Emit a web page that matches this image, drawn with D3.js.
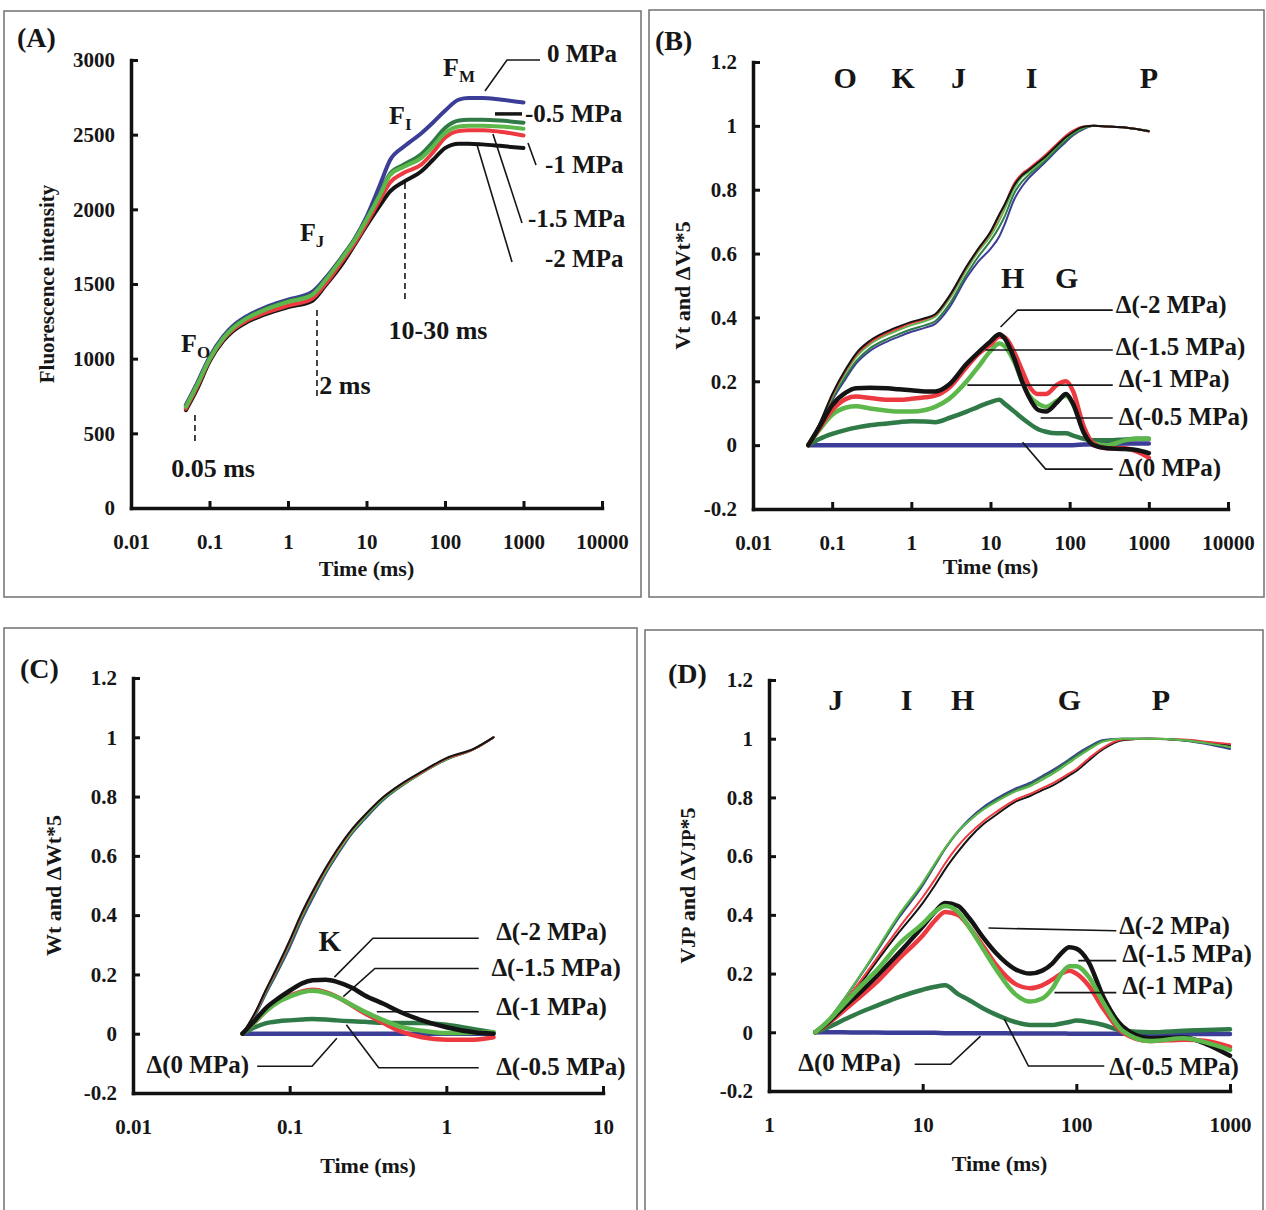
<!DOCTYPE html>
<html>
<head>
<meta charset="utf-8">
<script src="https://cdn.jsdelivr.net/npm/d3@7"></script>
<style>
  body { margin: 0; background: #fff; }
  text { font-family: "Liberation Serif", "Times New Roman", serif; font-weight: bold; fill: #161616; }
</style>
</head>
<body>
<svg id="fig" width="1266" height="1210"></svg>
<script>
/* ========================================================================
 * Chlorophyll fluorescence transients, four panels (A)-(D)
 * ======================================================================== */

// series: water potentials, order 0 / -0.5 / -1 / -1.5 / -2 MPa
var pressures = ['0 MPa', '-0.5 MPa', '-1 MPa', '-1.5 MPa', '-2 MPa'];
var deltaNames = ['Δ(0 MPa)', 'Δ(-0.5 MPa)', 'Δ(-1 MPa)', 'Δ(-1.5 MPa)', 'Δ(-2 MPa)'];
var colors = ['#3b3d96', '#2f7a47', '#5db84b', '#ec3a40', '#141414'];

// tick labels
var decadesAB = [0.01, 0.1, 1, 10, 100, 1000, 10000];
var decadesC = [0.01, 0.1, 1, 10];
var decadesD = [1, 10, 100, 1000];
var ticksFluo = [0, 500, 1000, 1500, 2000, 2500, 3000];
var ticksRel = [-0.2, 0, 0.2, 0.4, 0.6, 0.8, 1, 1.2];

// (A) raw OJIP transients
var timeA = [0.05, 0.07, 0.1, 0.15, 0.2, 0.3, 0.5, 1, 2, 3, 5, 7, 10, 15, 20, 30, 50, 70, 100, 150, 200, 300, 500, 1000];
var fluo0  = [690, 840, 1010, 1150, 1220, 1285, 1340, 1395, 1445, 1540, 1690, 1800, 1950, 2170, 2330, 2420, 2510, 2580, 2660, 2735, 2745, 2745, 2735, 2715];
var fluo05 = [680, 830, 1000, 1140, 1210, 1275, 1330, 1385, 1430, 1530, 1685, 1795, 1935, 2110, 2240, 2300, 2370, 2450, 2545, 2595, 2600, 2600, 2595, 2580];
var fluo1  = [678, 826, 996, 1136, 1205, 1270, 1325, 1380, 1425, 1525, 1680, 1790, 1930, 2100, 2230, 2285, 2345, 2420, 2510, 2555, 2560, 2560, 2555, 2540];
var fluo15 = [665, 815, 990, 1130, 1195, 1255, 1305, 1355, 1400, 1500, 1660, 1770, 1905, 2070, 2180, 2245, 2300, 2380, 2480, 2525, 2530, 2530, 2520, 2495];
var fluo2  = [655, 800, 980, 1120, 1185, 1245, 1295, 1345, 1385, 1490, 1640, 1760, 1890, 2030, 2120, 2185, 2255, 2330, 2410, 2440, 2440, 2435, 2425, 2410];

// (B) Vt and dVt*5
var timeB = [0.05, 0.07, 0.1, 0.15, 0.2, 0.3, 0.5, 0.7, 1, 1.5, 2, 3, 5, 7, 10, 13, 15, 20, 25, 30, 40, 50, 70, 90, 110, 150, 200, 300, 500, 700, 1000];
var vt0  = [0, 0.06, 0.14, 0.21, 0.255, 0.295, 0.325, 0.34, 0.355, 0.368, 0.38, 0.43, 0.525, 0.575, 0.615, 0.655, 0.69, 0.77, 0.81, 0.835, 0.865, 0.888, 0.925, 0.95, 0.97, 0.99, 1, 0.998, 0.995, 0.99, 0.983];
var vt05 = [0, 0.062, 0.145, 0.218, 0.262, 0.303, 0.333, 0.348, 0.363, 0.376, 0.388, 0.44, 0.535, 0.59, 0.64, 0.685, 0.715, 0.79, 0.825, 0.845, 0.872, 0.893, 0.93, 0.955, 0.973, 0.992, 1, 0.998, 0.995, 0.99, 0.984];
var vt1  = [0, 0.066, 0.152, 0.23, 0.276, 0.316, 0.346, 0.361, 0.376, 0.389, 0.402, 0.456, 0.55, 0.606, 0.655, 0.705, 0.738, 0.805, 0.84, 0.855, 0.878, 0.9, 0.937, 0.963, 0.978, 0.995, 1, 0.998, 0.995, 0.99, 0.984];
var vt15 = [0, 0.068, 0.156, 0.236, 0.282, 0.322, 0.352, 0.367, 0.382, 0.395, 0.408, 0.463, 0.558, 0.613, 0.665, 0.72, 0.752, 0.82, 0.85, 0.865, 0.89, 0.91, 0.945, 0.97, 0.985, 0.998, 1, 0.998, 0.995, 0.99, 0.982];
var vt2  = [0, 0.07, 0.16, 0.24, 0.287, 0.327, 0.357, 0.372, 0.386, 0.398, 0.41, 0.466, 0.56, 0.615, 0.668, 0.724, 0.752, 0.815, 0.845, 0.86, 0.885, 0.905, 0.94, 0.965, 0.98, 0.997, 1, 0.998, 0.995, 0.99, 0.983];
var dvt0  = [0, 0, 0, 0, 0, 0, 0, 0, 0, 0, 0, 0, 0, 0, 0, 0, 0, 0, 0, 0, 0, 0, 0, 0, 0, 0.002, 0.003, 0.004, 0.005, 0.005, 0.005];
var dvt05 = [0, 0.02, 0.035, 0.048, 0.055, 0.062, 0.068, 0.072, 0.075, 0.074, 0.072, 0.085, 0.105, 0.12, 0.135, 0.142, 0.13, 0.105, 0.085, 0.07, 0.05, 0.042, 0.037, 0.037, 0.03, 0.02, 0.015, 0.015, 0.018, 0.02, 0.02];
var dvt1  = [0, 0.05, 0.095, 0.118, 0.122, 0.115, 0.108, 0.105, 0.105, 0.11, 0.12, 0.145, 0.2, 0.245, 0.295, 0.318, 0.31, 0.26, 0.2, 0.16, 0.13, 0.12, 0.14, 0.155, 0.13, 0.05, 0.005, 0, 0.015, 0.02, 0.02];
var dvt15 = [0, 0.055, 0.11, 0.145, 0.152, 0.148, 0.142, 0.142, 0.145, 0.15, 0.155, 0.18, 0.245, 0.285, 0.315, 0.34, 0.338, 0.29, 0.235, 0.19, 0.16, 0.16, 0.19, 0.2, 0.17, 0.06, 0.005, -0.01, -0.01, -0.02, -0.04];
var dvt2  = [0, 0.06, 0.125, 0.165, 0.178, 0.18, 0.178, 0.175, 0.172, 0.168, 0.168, 0.19, 0.255, 0.29, 0.325, 0.347, 0.335, 0.27, 0.2, 0.155, 0.11, 0.105, 0.135, 0.16, 0.13, 0.04, 0, -0.01, -0.012, -0.015, -0.025];

// (C) Wt and dWt*5 (O-K)
var timeC = [0.05, 0.06, 0.07, 0.085, 0.1, 0.12, 0.14, 0.17, 0.2, 0.25, 0.3, 0.4, 0.5, 0.7, 1, 1.5, 2];
var wt0  = [0, 0.06, 0.13, 0.215, 0.29, 0.385, 0.455, 0.54, 0.6, 0.675, 0.722, 0.79, 0.83, 0.88, 0.925, 0.96, 1];
var wt05 = [0, 0.063, 0.134, 0.22, 0.298, 0.392, 0.462, 0.545, 0.605, 0.678, 0.726, 0.792, 0.83, 0.88, 0.925, 0.96, 1];
var wt1  = [0, 0.066, 0.14, 0.228, 0.307, 0.4, 0.47, 0.55, 0.61, 0.682, 0.73, 0.796, 0.833, 0.88, 0.926, 0.96, 1];
var wt15 = [0, 0.068, 0.142, 0.23, 0.31, 0.405, 0.475, 0.556, 0.616, 0.688, 0.735, 0.8, 0.836, 0.882, 0.928, 0.96, 1];
var wt2  = [0, 0.07, 0.145, 0.235, 0.315, 0.41, 0.48, 0.56, 0.62, 0.69, 0.736, 0.8, 0.838, 0.885, 0.93, 0.962, 1];
var dwt0  = [0, 0, 0, 0, 0, 0, 0, 0, 0, 0, 0, 0, 0, 0, 0, 0, 0];
var dwt05 = [0, 0.022, 0.035, 0.042, 0.045, 0.048, 0.05, 0.048, 0.045, 0.042, 0.04, 0.037, 0.036, 0.036, 0.03, 0.015, 0.005];
var dwt1  = [0, 0.04, 0.075, 0.108, 0.125, 0.14, 0.145, 0.138, 0.124, 0.097, 0.075, 0.045, 0.025, 0.01, 0.002, 0.003, 0.005];
var dwt15 = [0, 0.04, 0.075, 0.11, 0.128, 0.143, 0.148, 0.14, 0.125, 0.095, 0.07, 0.035, 0.01, -0.012, -0.02, -0.02, -0.012];
var dwt2  = [0, 0.045, 0.085, 0.12, 0.145, 0.17, 0.18, 0.182, 0.175, 0.155, 0.13, 0.1, 0.075, 0.045, 0.022, 0.005, 0];

// (D) VJP and dVJP*5 (J-P)
var timeD = [2, 2.5, 3, 4, 5, 7, 10, 12, 14, 17, 20, 25, 30, 40, 50, 60, 70, 80, 90, 100, 120, 150, 200, 300, 500, 700, 1000];
var vjp0  = [0, 0.05, 0.103, 0.198, 0.273, 0.39, 0.5, 0.568, 0.625, 0.685, 0.725, 0.768, 0.795, 0.83, 0.85, 0.873, 0.893, 0.912, 0.93, 0.947, 0.972, 0.996, 1, 1, 0.994, 0.982, 0.965];
var vjp05 = [0, 0.05, 0.105, 0.2, 0.275, 0.395, 0.505, 0.57, 0.625, 0.683, 0.72, 0.762, 0.79, 0.825, 0.845, 0.868, 0.888, 0.908, 0.926, 0.942, 0.968, 0.993, 1, 1, 0.995, 0.985, 0.97];
var vjp1  = [0, 0.05, 0.105, 0.2, 0.28, 0.4, 0.51, 0.575, 0.628, 0.685, 0.72, 0.76, 0.785, 0.82, 0.838, 0.86, 0.88, 0.9, 0.918, 0.935, 0.962, 0.99, 1, 1, 0.995, 0.985, 0.972];
var vjp15 = [0, 0.048, 0.095, 0.18, 0.25, 0.355, 0.46, 0.52, 0.575, 0.635, 0.675, 0.72, 0.75, 0.792, 0.812, 0.832, 0.848, 0.866, 0.882, 0.897, 0.932, 0.97, 0.997, 1, 0.997, 0.99, 0.982];
var vjp2  = [0, 0.045, 0.09, 0.17, 0.24, 0.34, 0.44, 0.5, 0.555, 0.615, 0.66, 0.71, 0.74, 0.785, 0.805, 0.825, 0.84, 0.858, 0.875, 0.89, 0.925, 0.965, 0.995, 1, 0.995, 0.988, 0.978];
var dvjp0  = [0, 0, 0, -0.001, -0.001, -0.002, -0.002, -0.002, -0.003, -0.003, -0.003, -0.003, -0.003, -0.004, -0.004, -0.004, -0.004, -0.004, -0.005, -0.005, -0.005, -0.005, -0.005, -0.006, -0.006, -0.006, -0.006];
var dvjp05 = [0, 0.02, 0.04, 0.07, 0.09, 0.12, 0.145, 0.155, 0.16, 0.13, 0.11, 0.08, 0.06, 0.035, 0.025, 0.025, 0.025, 0.03, 0.035, 0.04, 0.035, 0.025, 0.005, 0, 0.005, 0.008, 0.01];
var dvjp1  = [0, 0.045, 0.09, 0.16, 0.21, 0.3, 0.37, 0.41, 0.43, 0.41, 0.36, 0.28, 0.215, 0.13, 0.105, 0.115, 0.15, 0.2, 0.225, 0.225, 0.19, 0.1, 0.005, -0.03, -0.02, -0.035, -0.06];
var dvjp15 = [0, 0.035, 0.07, 0.125, 0.17, 0.25, 0.33, 0.38, 0.41, 0.4, 0.36, 0.29, 0.23, 0.165, 0.15, 0.16, 0.18, 0.2, 0.21, 0.2, 0.16, 0.08, 0, -0.03, -0.025, -0.03, -0.05];
var dvjp2  = [0, 0.04, 0.08, 0.14, 0.19, 0.27, 0.36, 0.41, 0.44, 0.43, 0.39, 0.32, 0.27, 0.215, 0.2, 0.21, 0.235, 0.27, 0.29, 0.285, 0.24, 0.12, 0.02, -0.02, -0.018, -0.04, -0.08];

// annotations, in data units of each panel (time ms, value)
var leadersA = [
  { name: pressures[0], at: [1992, 2987], pts: [[323, 2793], [616, 3000], [1622, 3000]] },
  { name: pressures[1], at: [1045, 2585], pts: [[433, 2639], [957, 2639]], thick: true },
  { name: pressures[2], at: [1879, 2243], pts: [[1141, 2444], [1443, 2297]] },
  { name: pressures[3], at: [1141, 1882], pts: [[408, 2505], [957, 1909]] },
  { name: pressures[4], at: [1879, 1614], pts: [[256, 2431], [714, 1647]] }
];
var stepsA = [
  { main: 'F', sub: 'O', at: [0.0434, 1045] },
  { main: 'F', sub: 'J', at: [1.42, 1788] },
  { main: 'F', sub: 'I', at: [19.4, 2572] },
  { main: 'F', sub: 'M', at: [94.4, 2893] }
];
var dashesA = [
  { t: 0.0653, from: 623, to: 422, label: '0.05 ms', at: [0.111, 208] },
  { t: 2.34, from: 1326, to: 750, label: '2 ms', at: [5.32, 763] },
  { t: 30.9, from: 2176, to: 1393, label: '10-30 ms', at: [81.5, 1132] }
];

var stepsB = [['O', 0.146, 1.118], ['K', 0.79, 1.118], ['J', 3.93, 1.118], ['I', 33, 1.118], ['P', 1000, 1.118], ['H', 19, 0.492], ['G', 91.6, 0.492]];
var leadersB = [
  { name: deltaNames[4], at: [382, 0.413], pts: [[13.4, 0.37], [22, 0.423], [350, 0.423]] },
  { name: deltaNames[3], at: [382, 0.283], pts: [[8.6, 0.298], [350, 0.298]] },
  { name: deltaNames[2], at: [417, 0.182], pts: [[5.1, 0.188], [350, 0.188]] },
  { name: deltaNames[1], at: [417, 0.064], pts: [[43, 0.085], [350, 0.085]] },
  { name: deltaNames[0], at: [417, -0.097], pts: [[25.4, 0.009], [49.7, -0.075], [350, -0.075]] }
];

var stepsC = [['K', 0.18, 0.28]];
var leadersC = [
  { name: deltaNames[4], at: [2.08, 0.317], pts: [[0.193, 0.191], [0.34, 0.322], [1.61, 0.322]] },
  { name: deltaNames[3], at: [1.94, 0.196], pts: [[0.22, 0.125], [0.35, 0.22], [1.61, 0.22]] },
  { name: deltaNames[2], at: [2.08, 0.063], pts: [[0.36, 0.074], [1.61, 0.074]] },
  { name: deltaNames[1], at: [2.08, -0.139], pts: [[0.23, 0.03], [0.37, -0.115], [1.61, -0.115]] },
  { name: deltaNames[0], at: [0.055, -0.134], pts: [[0.2, -0.015], [0.139, -0.11], [0.062, -0.11]], end: true }
];

var stepsD = [['J', 2.72, 1.098], ['I', 7.87, 1.098], ['H', 18.2, 1.098], ['G', 90, 1.098], ['P', 355, 1.098]];
var leadersD = [
  { name: deltaNames[4], at: [190, 0.335], pts: [[26.8, 0.355], [182, 0.346]] },
  { name: deltaNames[3], at: [199, 0.24], pts: [[103, 0.244], [182, 0.244]] },
  { name: deltaNames[2], at: [199, 0.131], pts: [[72, 0.135], [182, 0.135]] },
  { name: deltaNames[1], at: [164, -0.145], pts: [[34, 0.045], [48.8, -0.115], [152, -0.115]] },
  { name: deltaNames[0], at: [7.2, -0.133], pts: [[23.8, -0.013], [15.2, -0.109], [8.87, -0.109]], end: true }
];

var svg = d3.select('#fig');
svg.append('rect').attr('width', 1266).attr('height', 1210).attr('fill', '#fff');

function fmt(d) { return String(+d.toFixed(3)); }

function makePanel(o) {
  var g = svg.append('g');
  g.append('rect')
    .attr('x', o.box[0]).attr('y', o.box[1]).attr('width', o.box[2]).attr('height', o.box[3])
    .attr('fill', 'none').attr('stroke', '#707070').attr('stroke-width', 1.5);
  g.append('text').attr('x', o.title[0]).attr('y', o.title[1])
    .style('font-size', '28px').text(o.name);

  var x = d3.scaleLog().domain(o.xDom).range(o.xRange);
  var y = d3.scaleLinear().domain(o.yDom).range(o.yRange);

  var xa = g.append('g').attr('transform', 'translate(0,' + o.yRange[0] + ')')
    .call(d3.axisBottom(x).tickValues(o.xTicks).tickFormat(fmt)
      .tickSizeInner(-7).tickSizeOuter(0).tickPadding(26));
  var ya = g.append('g').attr('transform', 'translate(' + o.xRange[0] + ',0)')
    .call(d3.axisLeft(y).tickValues(o.yTicks).tickFormat(fmt)
      .tickSizeInner(-7).tickSizeOuter(0).tickPadding(16));
  [xa, ya].forEach(function(a) {
    a.attr('font-family', null).attr('font-size', null);
    a.select('.domain').attr('stroke', '#111').attr('stroke-width', 3.5).attr('stroke-linecap', 'square');
    a.selectAll('.tick line').attr('stroke', '#111').attr('stroke-width', 3);
    a.selectAll('.tick text').style('font-size', '21px').attr('fill', '#161616');
  });

  g.append('text')
    .attr('x', (o.xRange[0] + o.xRange[1]) / 2).attr('y', o.yRange[0] + o.xLabelGap)
    .attr('text-anchor', 'middle').style('font-size', '22px').text('Time (ms)');

  var yl = g.append('text')
    .attr('transform', 'translate(' + o.yLabelX + ',' + (o.yRange[0] + o.yRange[1]) / 2 + ') rotate(-90)')
    .attr('text-anchor', 'middle').attr('dy', '0.35em');
  o.yLabel.forEach(function(p) {
    yl.append('tspan').style('font-size', p[1] + 'px').text(p[0]);
  });

  return { g: g, x: x, y: y };
}

function drawSeries(p, time, series, order, width) {
  var line = d3.line()
    .x(function(d, i) { return p.x(time[i]); })
    .y(function(d) { return p.y(d); })
    .curve(d3.curveMonotoneX);
  order.forEach(function(k) {
    p.g.append('path').datum(series[k])
      .attr('d', line)
      .attr('fill', 'none')
      .attr('stroke', colors[k])
      .attr('stroke-width', width)
      .attr('stroke-linejoin', 'round')
      .attr('stroke-linecap', 'round');
  });
}

function drawLeaders(p, list, size) {
  var lf = d3.line().x(function(d) { return p.x(d[0]); }).y(function(d) { return p.y(d[1]); });
  list.forEach(function(l) {
    p.g.append('path').attr('d', lf(l.pts)).attr('fill', 'none')
      .attr('stroke', '#161616').attr('stroke-width', l.thick ? 3.5 : 1.6);
    p.g.append('text')
      .attr('x', p.x(l.at[0])).attr('y', p.y(l.at[1]))
      .attr('text-anchor', l.end ? 'end' : 'start')
      .style('font-size', size + 'px').text(l.name);
  });
}

function drawLetters(p, list, size) {
  list.forEach(function(s) {
    p.g.append('text').attr('x', p.x(s[1])).attr('y', p.y(s[2]))
      .attr('text-anchor', 'middle').style('font-size', size + 'px').text(s[0]);
  });
}

// ---------------- (A) ----------------
var pA = makePanel({
  name: '(A)', title: [17, 47], box: [4, 11, 637, 586],
  xDom: [0.01, 10000], xRange: [131, 602], xTicks: decadesAB,
  yDom: [0, 3000], yRange: [508, 60], yTicks: ticksFluo,
  xLabelGap: 68, yLabelX: 48, yLabel: [['Fluorescence intensity', 21]]
});
drawSeries(pA, timeA, [fluo0, fluo05, fluo1, fluo15, fluo2], [0, 4, 3, 1, 2], 4);
dashesA.forEach(function(d) {
  pA.g.append('line')
    .attr('x1', pA.x(d.t)).attr('x2', pA.x(d.t))
    .attr('y1', pA.y(d.from)).attr('y2', pA.y(d.to))
    .attr('stroke', '#161616').attr('stroke-width', 1.6).attr('stroke-dasharray', '6,4');
  pA.g.append('text').attr('x', pA.x(d.at[0])).attr('y', pA.y(d.at[1]))
    .attr('text-anchor', 'middle').style('font-size', '26px').text(d.label);
});
stepsA.forEach(function(s) {
  var t = pA.g.append('text').attr('x', pA.x(s.at[0])).attr('y', pA.y(s.at[1])).style('font-size', '26px');
  t.append('tspan').text(s.main);
  t.append('tspan').attr('dy', 6).style('font-size', '17px').text(s.sub);
});
drawLeaders(pA, leadersA, 25);

// ---------------- (B) ----------------
var pB = makePanel({
  name: '(B)', title: [655, 50], box: [649, 10, 615, 587],
  xDom: [0.01, 10000], xRange: [753, 1228], xTicks: decadesAB,
  yDom: [-0.2, 1.2], yRange: [509, 62], yTicks: ticksRel,
  xLabelGap: 65, yLabelX: 684, yLabel: [['Vt and ΔVt*5', 22]]
});
drawSeries(pB, timeB, [vt0, vt05, vt1, vt15, vt2], [0, 1, 2, 3, 4], 2);
drawSeries(pB, timeB, [dvt0, dvt05, dvt1, dvt15, dvt2], [0, 1, 2, 3, 4], 4.5);
drawLetters(pB, stepsB, 30);
drawLeaders(pB, leadersB, 25);

// ---------------- (C) ----------------
var pC = makePanel({
  name: '(C)', title: [20, 678], box: [4, 628, 633, 600],
  xDom: [0.01, 10], xRange: [133, 603], xTicks: decadesC,
  yDom: [-0.2, 1.2], yRange: [1093, 678], yTicks: ticksRel,
  xLabelGap: 80, yLabelX: 55, yLabel: [['Wt and ΔWt*5', 22]]
});
drawSeries(pC, timeC, [wt0, wt05, wt1, wt15, wt2], [0, 1, 2, 3, 4], 2);
drawSeries(pC, timeC, [dwt0, dwt05, dwt1, dwt15, dwt2], [0, 1, 3, 2, 4], 4.5);
drawLetters(pC, stepsC, 29);
drawLeaders(pC, leadersC, 25);

// ---------------- (D) ----------------
var pD = makePanel({
  name: '(D)', title: [668, 683], box: [645, 630, 618, 600],
  xDom: [1, 1000], xRange: [769, 1230], xTicks: decadesD,
  yDom: [-0.2, 1.2], yRange: [1091, 680], yTicks: ticksRel,
  xLabelGap: 80, yLabelX: 689, yLabel: [['V', 22], ['JP', 19], [' and ΔV', 22], ['JP', 19], ['*5', 22]]
});
drawSeries(pD, timeD, [vjp0, vjp05, vjp1, vjp15, vjp2], [0, 4, 3, 1, 2], 2);
drawSeries(pD, timeD, [dvjp0, dvjp05, dvjp1, dvjp15, dvjp2], [0, 1, 3, 4, 2], 4.5);
drawLetters(pD, stepsD, 30);
drawLeaders(pD, leadersD, 25);
</script>
</body>
</html>
